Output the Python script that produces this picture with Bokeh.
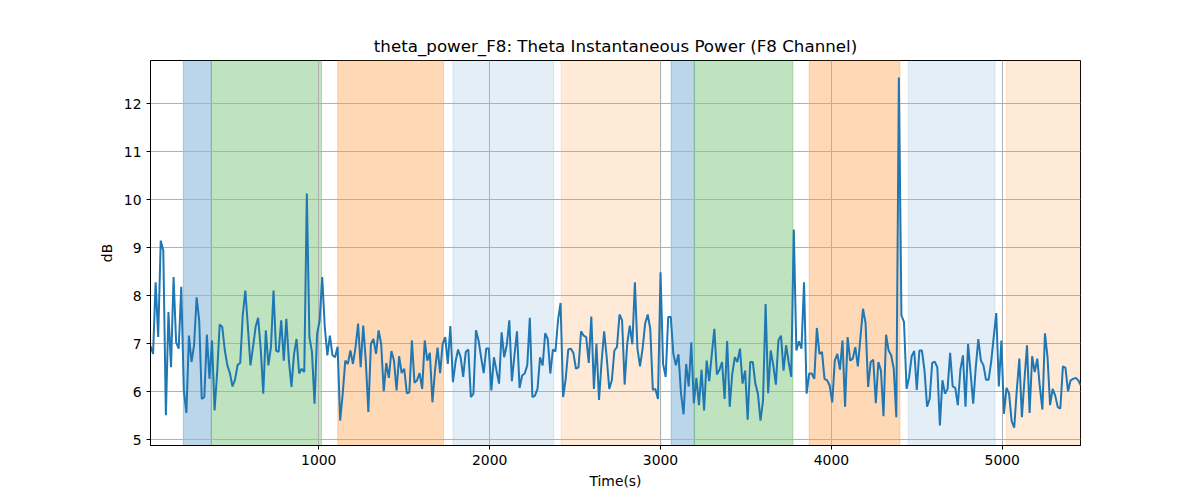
import numpy as np
from bokeh.plotting import figure
from bokeh.models import Range1d, FixedTicker, ColumnDataSource
from bokeh.embed import file_html
from bokeh.resources import INLINE

# ---- data ----
t_start = 15
t_step = 15
power_db = [
    6.95, 6.79, 8.28, 7.14, 9.15, 8.94, 5.51, 7.66, 6.51, 8.39,
    7.03, 6.9, 8.19, 6.03, 5.56, 7.17, 6.62, 6.97, 7.97, 7.49,
    5.85, 5.89, 7.19, 6.27, 7.07, 5.61, 6.4, 7.4, 7.35, 6.86,
    6.55, 6.38, 6.11, 6.26, 6.56, 6.6, 7.6, 8.11, 7.35, 6.55,
    6.93, 7.35, 7.54, 6.9, 5.96,
    7.28, 6.55, 6.93, 8.11, 6.86, 6.83, 7.49, 6.65, 7.52, 6.65,
    6.1, 6.79, 7.1, 6.38, 6.48, 6.41, 10.13, 7.14, 6.83, 5.75,
    7.2, 7.49, 8.39, 7.35, 6.76, 7.17, 6.76, 6.72, 6.94, 5.4,
    5.96, 6.65, 6.58, 6.86, 6.58, 6.93, 7.42, 6.51, 7.38, 6.65,
    5.58, 7.0, 7.1, 6.79, 7.28,
    7.0, 6.01, 6.6, 6.29, 6.85, 6.65, 6.03, 6.74, 6.39, 6.48,
    5.97, 5.99, 7.07, 6.19, 6.24, 6.39, 6.06, 7.07, 6.65, 6.81,
    5.78, 6.44, 6.92, 6.39, 7.0, 7.14, 6.58, 7.37, 6.2, 6.62,
    6.88, 6.72, 6.31, 6.83, 6.88, 5.89, 5.96, 7.28, 7.07, 6.72,
    6.39, 6.9, 6.9, 6.03, 6.72, 6.44,
    6.17, 7.24, 6.72, 6.97, 7.49, 6.22, 6.76, 7.26, 6.08, 6.34,
    6.38, 6.55, 7.54, 5.89, 5.92, 6.06, 6.72, 6.55, 7.22, 7.1,
    6.38, 6.88, 6.84, 7.49, 7.85, 5.89, 6.27, 6.88, 6.9, 6.81,
    6.48, 6.51, 7.26, 7.17, 7.14, 6.6, 7.57, 6.06, 7.0, 5.83,
    6.62, 7.26, 6.72, 6.06, 6.24, 6.86,
    6.93, 7.61, 7.49, 6.15, 7.0, 7.38, 6.99, 8.28, 6.9, 6.53,
    6.9, 7.42, 7.61, 7.31, 6.04, 6.06, 5.85, 8.49, 6.58, 6.31,
    7.56, 7.56, 6.79, 6.55, 6.78, 5.96, 5.53, 6.58, 6.11, 7.03,
    5.76, 6.29, 5.72, 6.46, 5.61, 6.65, 6.22, 6.78, 7.31, 6.36,
    6.46, 6.62, 5.85, 7.06, 5.69,
    6.38, 6.72, 6.62, 6.9, 6.17, 6.44, 5.42, 6.62, 6.62, 6.17,
    5.96, 5.4, 5.82, 7.83, 5.97, 6.86, 6.55, 6.15, 7.07, 7.17,
    6.44, 6.97, 6.62, 6.31, 9.38, 6.86, 7.05, 6.9, 8.28, 5.96,
    6.38, 6.38, 6.27, 7.33, 6.79, 6.83, 6.27, 6.24, 6.13, 5.78,
    6.65, 6.79, 6.46, 7.07, 5.69,
    7.14, 6.65, 6.69, 6.93, 6.53, 7.13, 7.73, 7.43, 6.1, 6.62,
    6.67, 5.76, 6.62, 6.44, 5.49, 7.19, 6.86, 6.76, 6.48, 5.47,
    12.55, 7.59, 7.45, 6.06, 6.31, 6.74, 6.85, 6.04, 6.86, 6.86,
    6.44, 5.69, 5.85, 6.6, 6.63, 6.51, 5.3, 6.24, 5.96, 6.06,
    6.81, 6.11, 6.08, 5.72, 6.46, 6.76,
    5.69, 7.0, 6.38, 5.75, 6.51, 7.1, 6.65, 6.55, 6.25, 6.25,
    6.62, 7.14, 7.64, 6.11, 7.07, 5.54, 6.08, 5.96, 5.39, 5.25,
    6.03, 6.69, 5.47, 6.25, 6.97, 5.56, 6.74, 6.41, 6.69, 6.1,
    5.63, 7.22, 6.72, 5.72, 6.06, 5.92, 5.68, 5.65, 6.53, 6.5,
    6.01, 6.24, 6.27, 6.29, 6.24, 6.13,
]
time_s = [t_start + t_step * i for i in range(len(power_db))]

span_starts = [207, 371, 1111, 1785, 2418, 3062, 3198, 3870, 4450, 5024]
span_ends = [371, 1016, 1730, 2375, 3003, 3198, 3775, 4401, 4958, 5600]
span_colors = ["#1f77b4", "#2ca02c", "#ff7f0e", "#1f77b4", "#ff7f0e",
               "#1f77b4", "#2ca02c", "#ff7f0e", "#1f77b4", "#ff7f0e"]
span_alphas = [0.3, 0.3, 0.3, 0.12, 0.16, 0.3, 0.3, 0.3, 0.12, 0.16]

x_ticks = [1000, 2000, 3000, 4000, 5000]
y_ticks = [5, 6, 7, 8, 9, 10, 11, 12]

FONT = "DejaVu Sans"

p = figure(width=1192, height=492, output_backend="svg", toolbar_location=None,
           x_range=Range1d(time_s[0], 5458), y_range=Range1d(4.88, 12.905),
           min_border_left=150, min_border_right=112, min_border_top=60,
           min_border_bottom=47,
           title="theta_power_F8: Theta Instantaneous Power (F8 Channel)")

p.title.align = "center"
p.title.text_font = FONT
p.title.text_font_size = "16.7px"
p.title.text_font_style = "normal"
p.title.text_color = "black"
p.title.offset = 0

spans = ColumnDataSource(dict(left=span_starts, right=span_ends,
                              color=span_colors, alpha=span_alphas,
                              bottom=[-100] * len(span_starts),
                              top=[100] * len(span_starts)))
p.quad(left="left", right="right", bottom="bottom", top="top", source=spans,
       fill_color="color", fill_alpha="alpha", line_color="color",
       line_alpha="alpha", line_width=1, level="image")

p.line(time_s, power_db, line_color="#1f77b4", line_width=2)

p.xaxis.ticker = FixedTicker(ticks=x_ticks)
p.yaxis.ticker = FixedTicker(ticks=y_ticks)
for ax in (p.xaxis, p.yaxis):
    ax.major_label_text_font = FONT
    ax.major_label_text_font_size = "13.9px"
    ax.major_label_text_color = "black"
    ax.axis_label_text_font = FONT
    ax.axis_label_text_font_size = "13.9px"
    ax.axis_label_text_font_style = "normal"
    ax.axis_label_text_color = "black"
    ax.minor_tick_line_color = None
    ax.major_tick_in = 0
    ax.major_tick_out = 4
    ax.major_tick_line_color = "black"
    ax.axis_line_color = "black"
p.xaxis.axis_label = "Time(s)"
p.yaxis.axis_label = "dB"
p.xaxis.axis_label_standoff = 5
p.yaxis.axis_label_standoff = 6

p.grid.grid_line_color = "#b0b0b0"
p.grid.grid_line_width = 1
p.grid.level = "underlay"
p.outline_line_color = "black"
p.outline_line_alpha = 1
p.outline_line_width = 1
p.background_fill_color = "white"
p.border_fill_color = "white"

open("out.html", "w").write(file_html(p, INLINE))
